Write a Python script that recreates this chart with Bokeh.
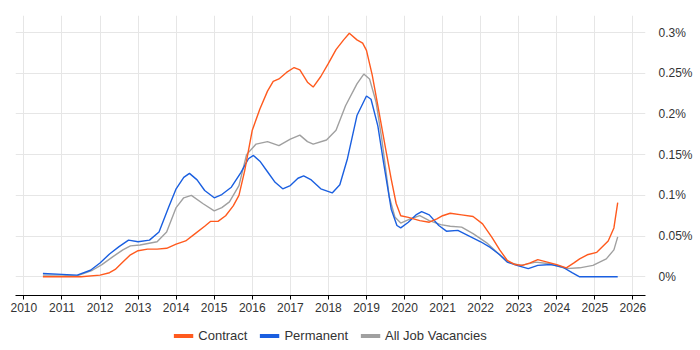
from bokeh.plotting import figure
from bokeh.layouts import column
from bokeh.models import (ColumnDataSource, Range1d, LinearAxis, FixedTicker, Legend, LegendItem, Grid)
from bokeh.embed import file_html
from bokeh.resources import INLINE

# ---- data (percent of all IT job ads) ----
contract_x = [2010.5, 2011.0, 2011.5, 2012.0, 2012.25, 2012.4, 2012.6, 2012.8, 2013.0, 2013.25, 2013.5,
              2013.75, 2014.0, 2014.25, 2014.5, 2014.75, 2014.9, 2015.1, 2015.3, 2015.5, 2015.65, 2015.8,
              2016.0, 2016.2, 2016.4, 2016.55, 2016.7, 2016.9, 2017.1, 2017.25, 2017.45, 2017.6, 2017.8,
              2018.0, 2018.2, 2018.4, 2018.55, 2018.75, 2018.9, 2019.0, 2019.15, 2019.3, 2019.5, 2019.65,
              2019.78, 2019.9, 2020.1, 2020.4, 2020.65, 2020.85, 2021.0, 2021.2, 2021.5, 2021.8, 2022.05,
              2022.3, 2022.5, 2022.7, 2022.9, 2023.1, 2023.3, 2023.5, 2023.75, 2024.0, 2024.25, 2024.45,
              2024.6, 2024.8, 2025.05, 2025.35, 2025.5, 2025.6]
contract_y = [0.0, 0.0, 0.0, 0.002, 0.005, 0.009, 0.018, 0.027, 0.032, 0.034, 0.034,
              0.035, 0.040, 0.044, 0.053, 0.062, 0.068, 0.068, 0.075, 0.087, 0.100, 0.130,
              0.180, 0.206, 0.228, 0.240, 0.243, 0.251, 0.257, 0.254, 0.239, 0.233, 0.246,
              0.262, 0.279, 0.291, 0.299, 0.291, 0.287, 0.278, 0.248, 0.210, 0.158, 0.120,
              0.090, 0.075, 0.073, 0.069, 0.067, 0.071, 0.075, 0.078, 0.076, 0.074, 0.065,
              0.048, 0.033, 0.020, 0.015, 0.014, 0.017, 0.021, 0.018, 0.015, 0.011, 0.017,
              0.022, 0.027, 0.030, 0.044, 0.060, 0.091]

perm_x = [2010.5, 2011.0, 2011.4, 2011.75, 2012.0, 2012.25, 2012.5, 2012.75, 2013.0, 2013.3, 2013.55,
          2013.8, 2014.0, 2014.2, 2014.35, 2014.55, 2014.75, 2015.0, 2015.2, 2015.45, 2015.7, 2015.9,
          2016.03, 2016.2, 2016.4, 2016.6, 2016.8, 2017.0, 2017.2, 2017.35, 2017.55, 2017.8, 2018.1,
          2018.3, 2018.5, 2018.75, 2019.0, 2019.12, 2019.3, 2019.45, 2019.65, 2019.8, 2019.9, 2020.1,
          2020.3, 2020.45, 2020.65, 2020.9, 2021.1, 2021.4, 2021.7, 2022.0, 2022.25, 2022.5, 2022.7,
          2022.95, 2023.25, 2023.5, 2023.85, 2024.15, 2024.4, 2024.6, 2025.6]
perm_y = [0.004, 0.003, 0.002, 0.008, 0.017, 0.028, 0.037, 0.045, 0.043, 0.045, 0.055,
          0.085, 0.108, 0.122, 0.127, 0.119, 0.106, 0.097, 0.101, 0.110, 0.128, 0.145,
          0.149, 0.142, 0.129, 0.116, 0.108, 0.112, 0.121, 0.124, 0.119, 0.108, 0.103,
          0.113, 0.145, 0.198, 0.222, 0.218, 0.185, 0.140, 0.083, 0.063, 0.060, 0.067,
          0.076, 0.080, 0.076, 0.063, 0.056, 0.057, 0.050, 0.043, 0.036, 0.027, 0.018,
          0.014, 0.010, 0.014, 0.015, 0.012, 0.005, 0.0, 0.0]

all_x = [2010.5, 2011.0, 2011.4, 2011.8, 2012.05, 2012.35, 2012.6, 2012.8, 2013.05, 2013.5, 2013.75,
         2014.0, 2014.2, 2014.4, 2014.7, 2015.0, 2015.2, 2015.4, 2015.65, 2015.85, 2016.1, 2016.4,
         2016.7, 2017.0, 2017.25, 2017.45, 2017.6, 2017.95, 2018.2, 2018.45, 2018.75, 2018.93, 2019.08,
         2019.25, 2019.4, 2019.6, 2019.75, 2019.9, 2020.15, 2020.4, 2020.65, 2020.95, 2021.2, 2021.5,
         2021.8, 2022.15, 2022.5, 2022.7, 2023.05, 2023.45, 2023.8, 2024.25, 2024.6, 2024.95, 2025.3,
         2025.5, 2025.6]
all_y = [0.002, 0.002, 0.001, 0.008, 0.015, 0.025, 0.033, 0.038, 0.039, 0.043, 0.055,
         0.085, 0.097, 0.100, 0.090, 0.081, 0.085, 0.092, 0.112, 0.150, 0.163, 0.166,
         0.161, 0.169, 0.174, 0.166, 0.163, 0.168, 0.180, 0.210, 0.237, 0.249, 0.243,
         0.215, 0.170, 0.098, 0.073, 0.066, 0.071, 0.075, 0.069, 0.064, 0.062, 0.061,
         0.053, 0.042, 0.027, 0.018, 0.014, 0.018, 0.016, 0.010, 0.011, 0.014, 0.022,
         0.033, 0.049]

year_ticks = list(range(2010, 2027))
y_ticks = [0.0, 0.05, 0.1, 0.15, 0.2, 0.25, 0.3]
y_labels = ["0%", "0.05%", "0.1%", "0.15%", "0.2%", "0.25%", "0.3%"]

series_names = ["Contract", "Permanent", "All Job Vacancies"]
colors = ["#ff5a1e", "#1a5fe0", "#a0a0a0"]

FONT = "Liberation Sans"

p = figure(frame_width=630, frame_height=280, output_backend="svg", toolbar_location=None,
           x_range=Range1d(2009.78, 2026.33), y_range=Range1d(-0.023, 0.3209),
           min_border_left=15, min_border_top=15, min_border_right=0, min_border_bottom=26,
           y_axis_location=None)
p.outline_line_color = None
p.background_fill_color = "white"
p.border_fill_color = "white"

# x axis
xa = p.xaxis[0]
xa.ticker = FixedTicker(ticks=year_ticks)
xa.axis_line_color = "#000000"
xa.axis_line_width = 1
xa.major_tick_line_color = "#000000"
xa.major_tick_in = 0
xa.major_tick_out = 4
xa.minor_tick_line_color = None
xa.major_label_text_font = FONT
xa.major_label_text_font_size = "12px"
xa.major_label_text_color = "#333333"
xa.major_label_standoff = 3

# right y axis
ya = LinearAxis(ticker=FixedTicker(ticks=y_ticks),
                major_label_overrides={t: l for t, l in zip(y_ticks, y_labels)})
ya.axis_line_color = None
ya.major_tick_line_color = None
ya.minor_tick_line_color = None
ya.major_label_text_font = FONT
ya.major_label_text_font_size = "12px"
ya.major_label_text_color = "#333333"
ya.major_label_standoff = 7
p.add_layout(ya, "right")

p.xgrid.ticker = FixedTicker(ticks=year_ticks)
p.xgrid.grid_line_color = "#e6e6e6"
p.ygrid.grid_line_color = None
yg = Grid(dimension=1, ticker=FixedTicker(ticks=y_ticks), grid_line_color="#e6e6e6")
p.add_layout(yg)

xs = [contract_x, perm_x, all_x]
ys = [contract_y, perm_y, all_y]
order = [2, 1, 0]
for i in order:
    src = ColumnDataSource(dict(x=xs[i], y=ys[i]))
    p.line("x", "y", source=src, line_color=colors[i], line_width=1.4)

# legend strip below the chart
lg = figure(frame_width=630, frame_height=28, output_backend="svg", toolbar_location=None,
            x_range=Range1d(0, 1), y_range=Range1d(0, 1),
            min_border_left=15, min_border_right=0, min_border_top=0, min_border_bottom=0,
            x_axis_location=None, y_axis_location=None)
lg.outline_line_color = None
lg.xgrid.grid_line_color = None
lg.ygrid.grid_line_color = None

items = []
for name, c in zip(series_names, colors):
    # placeholder line outside the visible range, used only for the legend swatch
    r = lg.line(x=[-5, -4], y=[-5, -4], line_color=c, line_width=4)
    items.append(LegendItem(label=name, renderers=[r]))

legend = Legend(items=items, orientation="horizontal", location="center",
                border_line_color=None, background_fill_alpha=0,
                label_text_font=FONT, label_text_font_size="13px", label_text_color="#333333",
                glyph_width=20, glyph_height=12, label_standoff=5, spacing=12,
                padding=0, margin=0, label_height=12)
lg.add_layout(legend, "center")

layout = column(p, lg, spacing=0)
open("out.html", "w").write(file_html(layout, INLINE))
